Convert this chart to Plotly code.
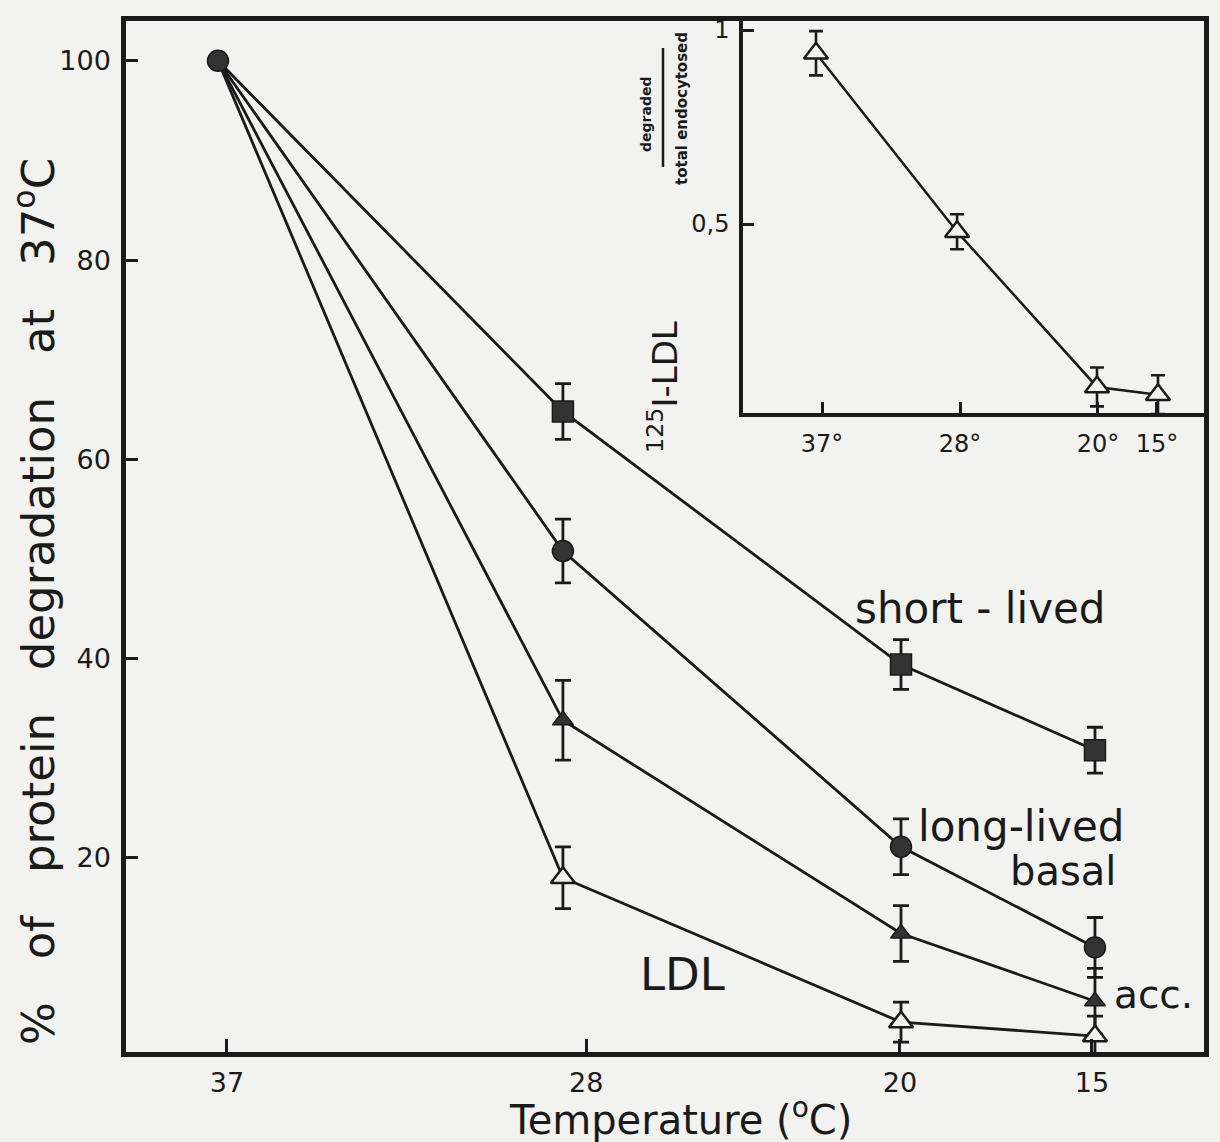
import plotly.graph_objects as go

# ---- data -------------------------------------------------------------
temperatures = [37, 28, 20, 15]
main_tick_labels = ["37", "28", "20", "15"]
inset_tick_labels = ["37°", "28°", "20°", "15°"]

short_lived = [100, 64.8, 39.4, 30.8]
short_lived_err = [None, 2.8, 2.5, 2.3]
long_lived = [100, 50.8, 21.1, 11.0]
long_lived_err = [None, 3.2, 2.8, 3.0]
basal = [100, 33.8, 12.4, 5.6]
basal_err = [None, 4.0, 2.8, 3.3]
ldl = [100, 18.0, 3.5, 2.1]
ldl_err = [None, 3.1, 2.0, 2.0]

# 125I-LDL degraded / total endocytosed
ldl_fraction = [0.94, 0.48, 0.08, 0.06]
ldl_fraction_err = [0.057, 0.045, 0.05, 0.05]

main_y_ticks = [20, 40, 60, 80, 100]
inset_y_ticks = [0.5, 1]
inset_y_tick_labels = ["0,5", "1"]

# ---- temperature axis scales (the temperature axis is not linear) ------
main_pos = {37: 0.0, 28: 1.01, 20: 2.0, 15: 2.568}
main_tick_pos = {37: 0.026, 28: 1.078, 20: 1.997, 15: 2.559}
inset_pos = {37: 0.0, 28: 1.004, 20: 2.0, 15: 2.434}
inset_tick_pos = {37: 0.043, 28: 1.025, 20: 2.007, 15: 2.427}

BG = "#f2f2f0"
INK = "#1a1a1a"
FILL = "#333333"
FONT = "DejaVu Sans"

fig = go.Figure()

x_main = [main_pos[t] for t in temperatures]
x_inset = [inset_pos[t] for t in temperatures]


def err(vals, width=8, thickness=2.8):
    return dict(type="data", array=vals, visible=True, color=INK,
                thickness=thickness, width=width)


def hide_first(size):
    # the shared 37 °C point is drawn once, as a circle
    return [0] + [size] * (len(temperatures) - 1)


series = [
    ("short-lived", short_lived, short_lived_err, "square", hide_first(21), FILL, 1.5),
    ("basal", basal, basal_err, "triangle-up", hide_first(18), FILL, 1.5),
    ("LDL", ldl, ldl_err, "triangle-up", hide_first(21), BG, 2.5),
    ("long-lived", long_lived, long_lived_err, "circle", 21, FILL, 1.5),
]

# connecting lines and error bars
for name, vals, errs, *_ in series:
    fig.add_trace(go.Scatter(
        x=x_main, y=vals, name=name, mode="lines",
        line=dict(color=INK, width=2.8),
        error_y=err(errs), showlegend=False, hoverinfo="skip",
    ))
fig.add_trace(go.Scatter(
    x=x_inset, y=ldl_fraction, xaxis="x2", yaxis="y2", mode="lines",
    line=dict(color=INK, width=2.5),
    error_y=err(ldl_fraction_err, width=7, thickness=2.6),
    showlegend=False, hoverinfo="skip",
))

# symbols on top of lines and bars
for name, vals, errs, sym, size, fill, lw in series:
    fig.add_trace(go.Scatter(
        x=x_main, y=vals, name=name, mode="markers",
        marker=dict(symbol=sym, size=size, color=fill, opacity=1,
                    line=dict(color=INK, width=lw)),
        showlegend=False,
    ))
fig.add_trace(go.Scatter(
    x=x_inset, y=ldl_fraction, xaxis="x2", yaxis="y2", mode="markers",
    marker=dict(symbol="triangle-up", size=21, color=BG, opacity=1,
                line=dict(color=INK, width=2.5)),
    showlegend=False,
))

# ---- layout ------------------------------------------------------------
L, R, T, B = 126, 16, 21, 90
W, H = 1220, 1142
pw, ph = W - L - R, H - T - B


def px_x(px):
    return (px - L) / pw


def px_y(py):
    return (H - B - py) / ph


axis_common = dict(showgrid=False, zeroline=False, showline=True,
                   mirror=True, linecolor=INK, ticks="inside",
                   tickcolor=INK)

fig.update_layout(
    width=W, height=H,
    margin=dict(l=L, r=R, t=T, b=B),
    paper_bgcolor=BG, plot_bgcolor=BG,
    font=dict(family=FONT, color=INK),
    xaxis=dict(**axis_common, domain=[0, 1],
               range=[(L - 218) / 341.5, (W - R - 218) / 341.5],
               tickmode="array",
               tickvals=[main_tick_pos[t] for t in temperatures],
               ticktext=main_tick_labels,
               linewidth=4.5, ticklen=13, tickwidth=3,
               tickfont=dict(size=27), ticklabelstandoff=3),
    yaxis=dict(**axis_common, domain=[0, 1], range=[0.5, 104.0],
               tickmode="array", tickvals=main_y_ticks,
               linewidth=4.5, ticklen=12, tickwidth=3,
               tickfont=dict(size=27), ticklabelstandoff=5),
    xaxis2=dict(**axis_common, anchor="y2", domain=[px_x(743), 1],
                range=[(743 - 816) / 140.5, (W - R - 816) / 140.5],
                tickmode="array",
                tickvals=[inset_tick_pos[t] for t in temperatures],
                ticktext=inset_tick_labels,
                linewidth=3.5, ticklen=11, tickwidth=2.5,
                tickfont=dict(size=24), ticklabelstandoff=6),
    yaxis2=dict(**axis_common, anchor="x2", domain=[px_y(413), 1],
                range=[(418 - 413) / 388, (418 - T) / 388],
                tickmode="array", tickvals=inset_y_ticks,
                ticktext=inset_y_tick_labels,
                linewidth=3.5, ticklen=11, tickwidth=2.5,
                tickfont=dict(size=24), ticklabelstandoff=5),
)

sp = "\u00a0" * 3
annotations = [
    # axis titles
    dict(text=f"%{sp}of{sp}protein{sp}degradation{sp}at{sp}37<sup>o</sup>C",
         x=px_x(35), y=px_y(602), textangle=-90, font=dict(size=45)),
    dict(text="Temperature\u00a0(<sup>o</sup>C)",
         x=px_x(680), y=px_y(1117), font=dict(size=40)),
    # inset axis title
    dict(text="<sup>125</sup>I-LDL", x=px_x(663), y=px_y(387),
         textangle=-90, font=dict(size=34)),
    dict(text="<b>degraded</b>", x=px_x(646), y=px_y(115),
         textangle=-90, font=dict(size=14)),
    dict(text="<b>total endocytosed</b>", x=px_x(682), y=px_y(109),
         textangle=-90, font=dict(size=15)),
]
for a in annotations:
    a.update(xref="paper", yref="paper", showarrow=False,
             xanchor="center", yanchor="middle")

# curve labels, placed in data units of the main axes
curve_labels = [
    ("short\u00a0-\u00a0lived", 2.231, 45.0, 42),
    ("long-lived", 2.354, 23.1, 42),
    ("basal", 2.474, 18.7, 40),
    ("acc.", 2.738, 6.3, 39),
    ("LDL", 1.359, 8.3, 45),
]
for text, x, y, size in curve_labels:
    annotations.append(dict(text=text, x=x, y=y, xref="x", yref="y",
                            showarrow=False, font=dict(size=size),
                            xanchor="center", yanchor="middle"))

fig.update_layout(annotations=annotations)

# fraction bar of the inset axis title
fig.add_shape(type="line", xref="paper", yref="paper",
              x0=px_x(663), x1=px_x(663), y0=px_y(48), y1=px_y(167),
              line=dict(color=INK, width=2.5))

fig.write_html("out.html")
